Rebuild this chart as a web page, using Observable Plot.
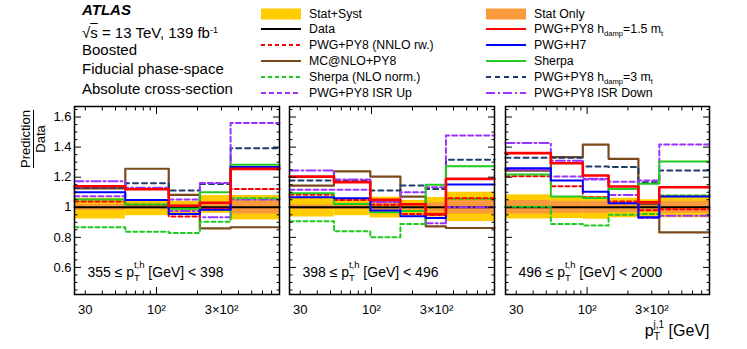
<!DOCTYPE html>
<html><head><meta charset="utf-8">
<script src="https://cdn.jsdelivr.net/npm/d3@7"></script>
<script src="https://cdn.jsdelivr.net/npm/@observablehq/plot@0.6"></script>
<style>
body{margin:0;background:#fff;}
#wrap{position:relative;width:747px;height:349px;font-family:"Liberation Sans",Arial,Helvetica,sans-serif;overflow:hidden;color:#000;}
.abs{position:absolute;white-space:nowrap;}
.lg{position:absolute;height:16px;line-height:16px;font-size:12.3px;white-space:nowrap;}
.lg svg{vertical-align:top;margin-right:8px;}
.lg sub{font-size:0.62em;vertical-align:-0.35em;line-height:0;}
</style></head><body><div id="wrap"></div>
<script>
// ---------- data ----------
const panelRanges = [[355, 398], [398, 496], [496, 2000]];
const edges = [
  [25, 59, 123, 208, 350, 800],
  [25, 53, 98, 163, 250, 352, 800],
  [25, 54, 93, 144, 239, 341, 800]
];
const statSystLo = [[0.922, 0.944, 0.945, 0.96, 0.916], [0.935, 0.944, 0.929, 0.94, 0.935, 0.905], [0.922, 0.925, 0.92, 0.93, 0.92, 0.93]];
const statSystHi = [[1.06, 1.044, 1.04, 1.078, 1.078], [1.067, 1.053, 1.067, 1.045, 1.065, 1.1], [1.082, 1.07, 1.07, 1.06, 1.05, 1.08]];
const statLo = [[0.98, 0.985, 0.98, 0.975, 0.955], [0.985, 0.985, 0.98, 0.98, 0.97, 0.955], [0.955, 0.96, 0.96, 0.965, 0.97, 0.96]];
const statHi = [[1.02, 1.015, 1.02, 1.03, 1.045], [1.015, 1.015, 1.02, 1.02, 1.03, 1.045], [1.045, 1.04, 1.04, 1.035, 1.03, 1.04]];
const dataRatio = [[1, 1, 1, 1, 1], [1, 1, 1, 1, 1, 1], [1, 1, 1, 1, 1, 1]];
const hdamp15 = [[1.14, 1.12, 1.01, 1.03, 1.255], [1.204, 1.167, 1.049, 1.02, 0.955, 1.189], [1.36, 1.293, 1.211, 1.138, 1.033, 1.133]];
const nnloRw = [[1.038, 1.016, 0.938, 0.99, 1.122], [1.084, 1.049, 1.016, 0.955, 0.949, 1.06], [1.207, 1.14, 1.067, 1.038, 0.98, 0.987]];
const herwig = [[1.10, 1.049, 0.956, 0.984, 1.267], [1.067, 1.06, 0.978, 0.94, 0.929, 1.151], [1.26, 1.178, 1.104, 1.027, 0.933, 1.071]];
const mcnlo = [[1.125, 1.256, 1.082, 0.86, 0.867], [1.144, 1.238, 1.204, 1.071, 0.873, 0.862], [1.244, 1.333, 1.416, 1.322, 1.02, 0.833]];
const sherpa = [[1.051, 1.018, 0.99, 1.10, 1.282], [1.093, 1.022, 0.967, 0.975, 1.149, 1.273], [1.218, 1.071, 1.062, 1.122, 1.156, 1.304]];
const sherpaNLO = [[0.867, 0.838, 0.829, 0.904, 1.06], [0.907, 0.84, 0.8, 0.889, 0.951, 1.056], [1.004, 0.889, 0.878, 0.951, 0.956, 1.078]];
const hdamp3 = [[1.13, 1.16, 1.111, 1.155, 1.393], [1.178, 1.178, 1.111, 1.144, 1.122, 1.316], [1.329, 1.33, 1.271, 1.267, 1.167, 1.244]];
const isrUp = [[1.073, 1.122, 1.051, 1.162, 1.56], [1.116, 1.116, 1.04, 1.10, 1.133, 1.478], [1.25, 1.204, 1.184, 1.17, 1.178, 1.418]];
const isrDown = [[1.173, 1.13, 0.975, 0.933, 1.051], [1.244, 1.184, 1.033, 0.975, 0.893, 1.0], [1.427, 1.31, 1.19, 1.082, 0.929, 0.944]];

const yMajorTicks = [0.6, 0.8, 1.0, 1.2, 1.4, 1.6];
const xLabelTicks = [30, 100, 300];
const xTickLabels = ["30", "10²", "3×10²"];
const xMinorTicks = [30, 40, 50, 60, 70, 80, 90, 200, 300, 400, 500, 600, 700];
const xMajorTicks = [100];

// ---------- styles ----------
const YELLOW = "#ffcc00", ORANGE = "#f99b3d";
const C = {red: "#ff0000", blue: "#0000ff", green: "#22c922", brown: "#7b4a1c", navy: "#1d3c6b", purple: "#9a33ff", black: "#000000"};
const series = [
  {v: dataRatio, color: C.black, w: 2, dash: null},
  {v: mcnlo, color: C.brown, w: 2.2, dash: null},
  {v: hdamp3, color: C.navy, w: 2, dash: "5,4"},
  {v: isrUp, color: C.purple, w: 2, dash: "5,3"},
  {v: isrDown, color: C.purple, w: 2, dash: "9,3,2,3"},
  {v: sherpaNLO, color: C.green, w: 2, dash: "4,3"},
  {v: nnloRw, color: C.red, w: 2, dash: "4,3"},
  {v: sherpa, color: C.green, w: 2, dash: null},
  {v: herwig, color: C.blue, w: 2, dash: null},
  {v: hdamp15, color: C.red, w: 2.6, dash: null}
];

const wrap = document.getElementById("wrap");
const layout = [
  {left: 0, width: 284, ml: 74, mr: 5},
  {left: 284, width: 215, ml: 5, mr: 5},
  {left: 499, width: 248, ml: 6, mr: 38}
];
const yFmt = d => String(+d.toFixed(1));

function richText(sel, parts) {
  sel.text(null);
  for (const p of parts) {
    const s = sel.append("tspan").text(p.t);
    if (p.dx) s.attr("dx", p.dx);
    if (p.dy) s.attr("dy", p.dy);
    if (p.fs) s.attr("font-size", p.fs);
  }
}

for (let p = 0; p < 3; p++) {
  const e = edges[p];
  const L = layout[p];
  const step = vals => vals.map((v, i) => ({x: e[i], y: v})).concat([{x: e[e.length - 1], y: vals[vals.length - 1]}]);
  const bins = (lo, hi) => lo.map((l, i) => ({x1: e[i], x2: e[i + 1], y1: l, y2: hi[i]}));
  const marks = [
    Plot.rect(bins(statSystLo[p], statSystHi[p]), {x1: "x1", x2: "x2", y1: "y1", y2: "y2", fill: YELLOW}),
    Plot.rect(bins(statLo[p], statHi[p]), {x1: "x1", x2: "x2", y1: "y1", y2: "y2", fill: ORANGE})
  ];
  for (const s of series) {
    marks.push(Plot.line(step(s.v[p]), {x: "x", y: "y", curve: "step-after", stroke: s.color, strokeWidth: s.w, strokeDasharray: s.dash}));
  }
  const yMinor = d3.range(0.45, 1.66, 0.05).map(d => +d.toFixed(2)).filter(d => !yMajorTicks.some(m => Math.abs(m - d) < 1e-6));
  for (const a of ["left", "right"]) {
    marks.push(Plot.axisY(yMajorTicks, {anchor: a, tickSize: -7, fill: "none", label: null}));
    marks.push(Plot.axisY(yMinor, {anchor: a, tickSize: -3.5, fill: "none", label: null}));
  }
  for (const a of ["bottom", "top"]) {
    marks.push(Plot.axisX(xMajorTicks, {anchor: a, tickSize: -7, fill: "none", label: null}));
    marks.push(Plot.axisX(xMinorTicks, {anchor: a, tickSize: -3.5, fill: "none", label: null}));
  }
  if (p === 0) marks.push(Plot.axisY(yMajorTicks, {anchor: "left", tickSize: 0, tickPadding: 3, tickFormat: yFmt, label: null, fontSize: 13}));
  marks.push(Plot.text(xLabelTicks, {x: d => d, frameAnchor: "bottom", dy: 10, lineAnchor: "top", fontSize: 13,
    text: (d, i) => xTickLabels[i]}));
  marks.push(Plot.frame({stroke: "black", strokeWidth: 1.5}));
  marks.push(Plot.text([panelRanges[p]], {frameAnchor: "bottom-left", dx: 13, dy: -18, lineAnchor: "bottom", fontSize: 14,
    text: d => `${d[0]} ≤ pT [GeV] < ${d[1]}`}));
  if (p === 2) marks.push(Plot.text(["x-title"], {frameAnchor: "bottom-right", dx: 0, dy: 41, lineAnchor: "bottom", textAnchor: "end", fontSize: 16,
    text: () => "pT [GeV]"}));

  const svg = Plot.plot({
    width: L.width, height: 349,
    marginLeft: L.ml, marginRight: L.mr, marginTop: 106, marginBottom: 55,
    x: {type: "log", domain: [25, 800]},
    y: {domain: [0.42, 1.67]},
    style: {fontFamily: "'Liberation Sans', Arial, Helvetica, sans-serif", fontSize: "13px", background: "none", overflow: "visible", color: "#000"},
    marks
  });
  svg.style.position = "absolute";
  svg.style.left = L.left + "px";
  svg.style.top = "0px";
  wrap.appendChild(svg);

  d3.select(svg).selectAll("text").each(function () {
    const t = this.textContent;
    const sel = d3.select(this);
    if (t.includes("≤")) {
      const r = panelRanges[p];
      richText(sel, [{t: `${r[0]} ≤ p`}, {t: "T", dy: 4.5, fs: 9.5}, {t: "t,h", dx: -6, dy: -13, fs: 9.5}, {t: ` [GeV] < ${r[1]}`, dy: 8.5}]);
    } else if (t === "pT [GeV]") {
      richText(sel, [{t: "p"}, {t: "T", dy: 4, fs: 10.5}, {t: "j,1", dx: -6.5, dy: -11.5, fs: 10}, {t: " [GeV]", dy: 7.5}]);
    }
  });
}

// ---------- header texts ----------
const headerLines = [
  {html: "ATLAS", top: 1.5, style: "font-weight:bold;font-style:italic;font-size:15px;"},
  {html: "√<span style='text-decoration:overline'>s</span> = 13 TeV, 139 fb<sup style='font-size:0.6em;vertical-align:0.6em;line-height:0'>-1</sup>", top: 24.6},
  {html: "Boosted", top: 41.6},
  {html: "Fiducial phase-space", top: 61.3},
  {html: "Absolute cross-section", top: 80.6}
];
for (const h of headerLines) {
  const d = document.createElement("div");
  d.className = "abs";
  d.style.cssText = `left:82px;top:${h.top}px;font-size:15px;line-height:15px;` + (h.style || "");
  d.innerHTML = h.html;
  wrap.appendChild(d);
}

// y-axis title (fraction)
const yt = document.createElement("div");
yt.className = "abs";
yt.style.cssText = "left:4px;top:124px;width:60px;height:30px;transform:rotate(-90deg);transform-origin:30px 15px;text-align:center;font-size:13px;line-height:14px;";
yt.innerHTML = "<div style='display:inline-block'><div style='border-bottom:1.2px solid #000'>Prediction</div><div>Data</div></div>";
wrap.appendChild(yt);

// ---------- legend ----------
const legendLabels = [
  "Stat+Syst", "Data", "PWG+PY8 (NNLO rw.)", "MC@NLO+PY8", "Sherpa (NLO norm.)", "PWG+PY8 ISR Up",
  "Stat Only", "PWG+PY8 h<sub>damp</sub>=1.5 m<sub>t</sub>", "PWG+H7", "Sherpa", "PWG+PY8 h<sub>damp</sub>=3 m<sub>t</sub>", "PWG+PY8 ISR Down"
];
const legendSwatch = [
  {box: YELLOW}, {c: C.black, w: 2}, {c: C.red, w: 2, d: "4,3"}, {c: C.brown, w: 2.2}, {c: C.green, w: 2, d: "4,3"}, {c: C.purple, w: 2, d: "5,3"},
  {box: ORANGE}, {c: C.red, w: 2}, {c: C.blue, w: 2}, {c: C.green, w: 2}, {c: C.navy, w: 2, d: "5,4"}, {c: C.purple, w: 2, d: "9,3,2,3"}
];
legendLabels.forEach((lab, i) => {
  const col = Math.floor(i / 6), row = i % 6;
  const sw = legendSwatch[i];
  const d = document.createElement("div");
  d.className = "lg";
  d.style.left = (col === 0 ? 261 : 486) + "px";
  d.style.top = (13.5 + row * 15.9 - 8) + "px";
  const inner = sw.box
    ? `<rect x="0" y="2.5" width="40" height="11" fill="${sw.box}"/>`
    : `<line x1="0" x2="40" y1="8" y2="8" stroke="${sw.c}" stroke-width="${sw.w}" ${sw.d ? `stroke-dasharray="${sw.d}"` : ""}/>`;
  d.innerHTML = `<svg width="40" height="16">${inner}</svg><span>${lab}</span>`;
  wrap.appendChild(d);
});
</script>
</body></html>
